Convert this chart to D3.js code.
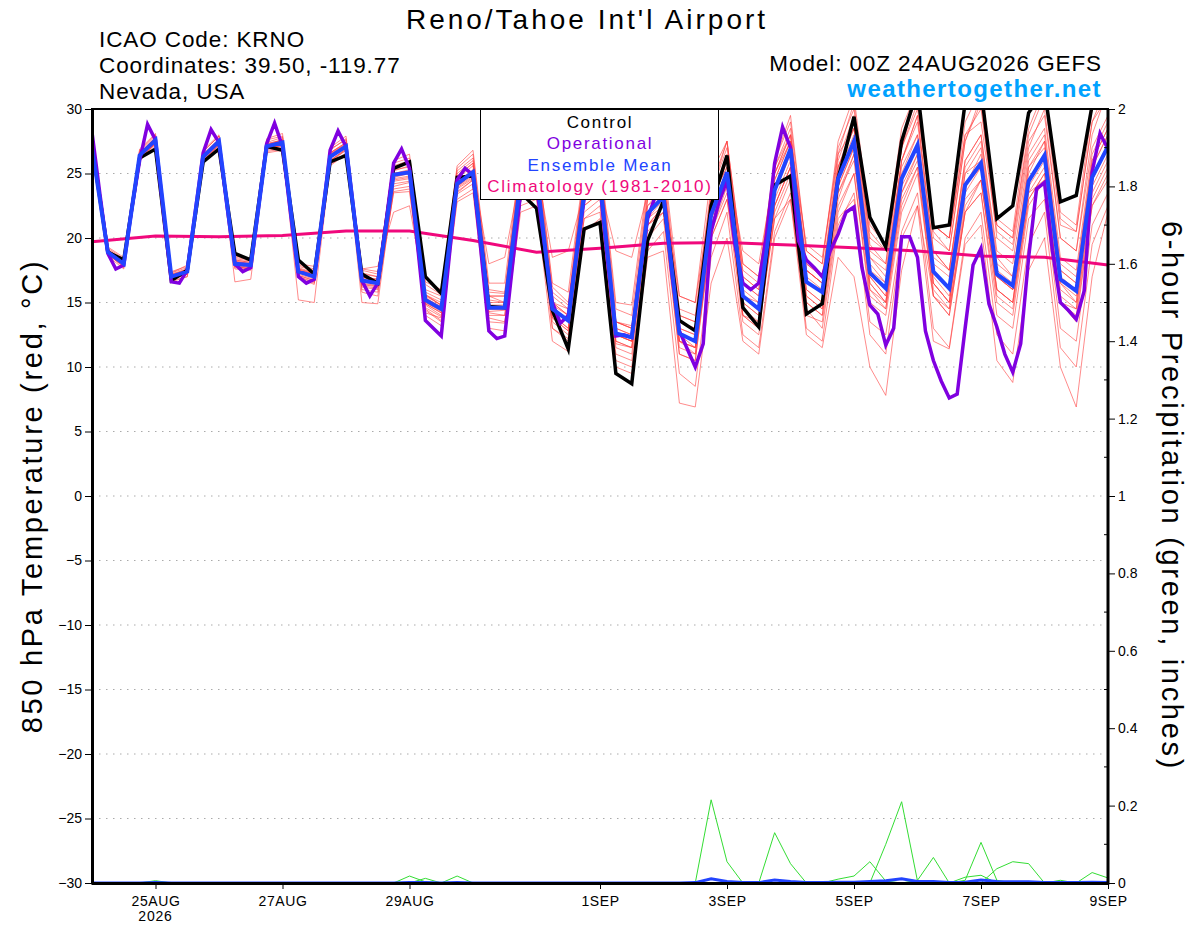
<!DOCTYPE html>
<html>
<head>
<meta charset="utf-8">
<script src="https://cdn.jsdelivr.net/npm/d3@7"></script>
<style>
  body { margin: 0; background: #fff; }
  svg { display: block; font-family: "Liberation Sans", Arial, Helvetica, sans-serif; }
</style>
</head>
<body>
<script>
// ---- data (6-hourly from 00Z 24AUG2026 unless noted) ----
const runStart = Date.UTC(2026, 7, 24, 0);
const runEnd = Date.UTC(2026, 8, 9, 0);

const tickDates = [
  Date.UTC(2026, 7, 25), Date.UTC(2026, 7, 27), Date.UTC(2026, 7, 29), Date.UTC(2026, 8, 1),
  Date.UTC(2026, 8, 3), Date.UTC(2026, 8, 5), Date.UTC(2026, 8, 7), Date.UTC(2026, 8, 9)
];
const tickLabels = ["25AUG", "27AUG", "29AUG", "1SEP", "3SEP", "5SEP", "7SEP", "9SEP"];
const tempTicks = [-30, -25, -20, -15, -10, -5, 0, 5, 10, 15, 20, 25, 30];
const precipTicks = [0, 0.2, 0.4, 0.6, 0.8, 1, 1.2, 1.4, 1.6, 1.8, 2];
const precipMinor = [0.1, 0.3, 0.5, 0.7, 0.9, 1.1, 1.3, 1.5, 1.7, 1.9];

const control = [
  27.2, 18.9, 18.3, 26.2, 26.9, 16.7, 17.5, 25.9,
  26.9, 18.8, 18.3, 27.1, 26.8, 18.3, 17.2, 25.9,
  26.4, 17.2, 16.5, 25.4, 25.9, 17.0, 15.7, 24.7,
  24.8, 14.7, 14.6, 23.5, 22.3, 14.4, 11.4, 20.7,
  21.2, 9.5, 8.7, 19.8, 22.9, 13.6, 12.8, 22.5,
  26.4, 14.6, 13.1, 24.1, 24.8, 14.1, 14.9, 24.6,
  29.4, 21.6, 19.3, 27.5, 31.5, 20.8, 21.0, 30.5,
  31.5, 21.5, 22.5, 29.7, 31.5, 22.8, 23.3, 30.3,
  33.0
];

const ensMean = [
  27.0, 18.9, 18.0, 26.4, 27.6, 17.0, 17.4, 26.3,
  27.5, 18.0, 17.9, 27.1, 27.4, 17.4, 17.0, 26.3,
  27.1, 16.7, 16.5, 24.9, 25.1, 15.2, 14.5, 24.2,
  25.1, 14.6, 14.6, 24.5, 25.0, 14.5, 13.6, 23.5,
  24.5, 12.6, 12.3, 21.9, 23.2, 12.6, 12.0, 21.8,
  25.1, 15.5, 14.5, 23.7, 26.9, 16.6, 15.8, 24.6,
  27.5, 17.3, 16.1, 24.6, 27.2, 17.4, 16.1, 24.1,
  25.8, 17.2, 16.3, 24.4, 26.4, 16.8, 15.9, 24.7,
  27.1
];

// operational run: 3-hourly
const operational = [
  28.2, 23.4, 18.8, 17.6, 17.9, 22.2, 26.0, 28.8,
  27.6, 22.0, 16.6, 16.5, 17.5, 22.0, 26.6, 28.4,
  27.4, 22.5, 18.0, 17.4, 17.7, 22.5, 27.3, 28.9,
  27.1, 22.0, 17.0, 16.5, 16.8, 21.5, 26.8, 28.3,
  27.1, 22.0, 16.7, 15.5, 16.5, 21.0, 25.8, 26.9,
  25.4, 19.5, 13.6, 13.0, 12.4, 18.5, 24.5, 25.4,
  24.9, 19.0, 12.8, 12.2, 12.4, 18.0, 23.5, 24.5,
  24.0, 19.5, 15.0, 13.4, 14.0, 18.5, 23.0, 24.0,
  24.0, 18.0, 12.4, 12.5, 12.3, 17.0, 21.5, 23.3,
  23.5, 17.5, 12.8, 11.4, 10.0, 11.8, 20.5, 22.8,
  24.5, 19.5, 16.5, 16.0, 16.5, 20.3, 25.8, 28.6,
  27.0, 19.8, 18.3, 17.7, 17.0, 19.0, 20.3, 22.0,
  22.4, 17.7, 14.8, 14.1, 11.7, 13.0, 20.1, 20.1,
  18.5, 12.8, 10.5, 8.9, 7.6, 7.9, 13.0, 17.9,
  19.2, 14.9, 13.1, 11.0, 9.6, 11.8, 18.5, 23.8,
  24.3, 19.0, 15.0, 14.4, 13.7, 15.9, 25.1, 28.1,
  26.9
];

// daily climatology (1981-2010), 00Z each day 24AUG..9SEP
const climatology = [19.7, 20.15, 20.1, 20.2, 20.55, 20.55, 19.8, 18.9,
  19.2, 19.6, 19.65, 19.45, 19.25, 19.0, 18.6, 18.5, 17.9];

const members = [
  [27.3,19.2,18.4,26.8,28.0,17.4,17.8,26.7, 27.9,18.5,18.3,27.6,27.9,17.9,17.6,26.9, 27.6,17.5,17.2,25.8,26.2,16.4,15.6,25.4, 26.5,16.0,15.8,26.0,26.8,16.2,15.0,25.0, 26.0,14.5,14.0,24.0,25.5,14.5,14.0,24.0, 27.5,18.0,17.0,26.0,29.0,19.0,18.0,27.0, 30.0,20.0,19.0,27.5,31.0,21.0,20.0,28.0, 30.0,21.0,20.0,28.0,31.0,21.0,20.5,29.0, 31.0],
  [26.7,18.6,17.6,26.0,27.2,16.6,17.0,25.9, 27.1,16.6,16.8,26.6,26.8,15.2,15.0,25.6, 26.5,15.8,15.5,23.6,23.8,14.0,13.2,22.8, 23.5,13.0,12.8,22.0,22.5,12.0,11.2,20.5, 21.5,10.5,10.0,19.0,20.5,9.5,8.5,18.5, 22.0,12.5,11.5,20.5,23.5,13.0,12.0,21.0, 23.5,13.5,12.5,20.5,23.5,13.0,11.5,20.0, 22.0,12.5,11.0,19.5,22.0,11.5,10.0,19.5, 22.5],
  [27.1,19.0,18.2,26.5,27.8,17.2,17.5,26.5, 27.7,18.2,18.0,27.3,27.6,17.6,17.3,26.5, 27.3,17.0,16.8,25.2,25.6,15.6,14.8,24.8, 25.8,15.2,15.0,25.2,25.5,13.8,12.8,24.0, 25.0,11.8,11.5,21.0,22.5,11.0,10.5,20.5, 24.0,14.5,13.0,22.5,25.5,15.0,14.0,23.0, 26.5,16.0,14.5,23.5,26.5,16.5,15.0,24.0, 26.5,17.0,16.0,25.0,27.5,18.0,17.0,26.0, 28.5],
  [26.9,18.8,17.9,26.3,27.4,16.9,17.3,26.2, 27.3,17.8,17.6,26.9,27.2,17.0,16.5,25.9, 26.8,15.0,14.9,24.0,24.3,14.5,13.6,23.4, 24.2,13.8,13.5,23.0,23.5,13.0,12.0,21.5, 22.0,10.0,9.5,18.5,19.0,7.2,6.9,16.5, 20.0,12.0,11.0,20.0,23.0,14.0,13.5,22.0, 25.0,15.0,14.0,22.0,25.0,15.5,14.5,22.5, 24.5,15.5,14.5,23.0,25.0,15.0,13.5,22.5, 25.0],
  [27.2,19.1,18.1,26.6,27.7,17.1,17.6,26.4, 27.6,18.3,18.1,27.2,27.5,17.5,17.2,26.6, 27.4,17.2,17.0,25.5,25.8,15.8,15.2,25.0, 26.0,15.5,15.5,25.8,26.5,15.8,14.8,25.0, 26.0,13.5,13.2,23.5,25.0,14.0,13.5,23.5, 27.0,17.0,16.0,25.5,28.5,18.0,17.0,26.5, 30.5,19.5,18.0,27.0,31.5,20.5,19.0,27.5, 30.5,20.0,19.0,27.0,30.0,20.0,19.0,28.0, 31.5],
  [26.8,18.7,17.8,26.2,27.3,16.8,17.2,26.0, 27.2,17.9,17.7,26.9,27.1,17.2,16.8,26.0, 26.9,16.4,16.2,24.4,24.6,14.8,14.0,23.8, 24.6,14.2,14.0,24.0,24.2,14.0,13.0,22.5, 23.5,12.0,11.5,21.0,22.0,12.0,11.5,20.5, 23.5,14.0,13.0,21.5,24.5,14.5,13.0,21.5, 23.0,12.5,11.0,20.0,22.5,12.0,11.4,19.5, 21.0,10.5,8.8,17.5,20.0,10.0,6.9,17.0, 22.0],
  [27.0,18.9,18.1,26.4,27.5,17.0,17.5,26.3, 27.4,18.1,18.0,27.0,27.3,17.3,17.0,26.3, 27.0,16.8,16.6,24.7,25.0,15.0,14.3,24.0, 24.8,14.3,14.4,24.2,24.5,14.0,13.0,23.0, 23.8,12.0,11.5,21.5,23.0,12.5,11.5,21.5, 24.5,14.0,13.5,21.5,23.0,12.5,11.5,18.5, 17.0,10.0,7.8,17.5,22.5,15.5,14.0,22.0, 24.5,16.0,15.0,23.5,25.5,16.0,15.0,24.0, 26.5],
  [27.4,19.3,18.5,26.9,28.1,17.3,17.9,26.8, 28.0,18.6,18.4,27.7,28.1,18.0,17.8,27.0, 27.9,17.6,17.4,26.0,26.5,16.6,16.0,25.6, 26.8,16.5,16.5,26.5,27.0,16.5,15.8,25.5, 26.5,15.0,14.8,24.5,26.0,15.5,15.0,25.0, 27.5,18.0,17.0,25.0,28.0,18.0,17.0,25.5, 28.5,18.5,17.5,26.0,29.0,18.5,17.5,26.0, 28.0,19.0,18.0,26.5,28.5,18.5,17.5,26.5, 29.0],
  [26.8,18.7,17.9,26.1,27.3,16.8,17.2,26.0, 27.2,17.7,17.6,26.8,27.0,17.0,16.6,25.8, 26.6,16.0,15.8,23.8,24.0,14.4,13.5,23.0, 23.8,13.5,13.4,22.5,23.0,13.0,12.2,21.5, 22.5,11.0,10.5,20.0,21.5,11.0,10.5,20.0, 23.0,13.5,12.5,22.5,25.5,15.5,14.5,23.5, 26.5,16.5,15.0,23.0,25.5,16.0,14.5,22.0, 23.5,15.0,14.0,22.5,24.5,15.5,14.5,23.0, 25.5],
  [27.1,19.0,18.0,26.5,27.6,17.1,17.4,26.4, 27.5,18.0,17.9,27.2,27.5,17.5,17.1,26.4, 27.2,16.6,16.4,25.0,25.3,15.4,14.6,24.4, 25.3,14.8,14.8,25.0,25.8,15.0,14.0,24.5, 25.5,13.0,12.5,22.5,24.0,13.0,12.5,22.5, 26.0,16.0,15.0,24.5,27.5,17.0,16.0,25.0, 28.0,17.0,15.5,25.0,28.0,17.5,16.0,25.0, 27.0,17.5,16.5,25.5,27.5,17.0,16.0,25.5, 28.0],
  [27.0,18.8,17.7,26.2,27.4,16.7,17.0,26.1, 27.3,17.6,17.5,26.7,26.9,16.9,16.4,25.7, 26.5,16.2,16.0,23.5,23.6,14.2,13.8,23.5, 24.5,14.8,14.5,23.5,23.8,13.5,12.5,22.0, 23.0,12.5,12.0,21.0,22.0,12.0,11.0,20.0, 23.0,15.5,15.0,24.0,27.0,17.5,16.5,25.0, 27.0,17.5,16.5,25.5,28.0,18.0,17.0,25.0, 26.0,17.0,16.0,23.5,24.5,15.0,14.0,22.5, 24.5],
  [27.3,19.1,18.3,26.7,27.9,17.3,17.7,26.7, 27.9,18.4,18.2,27.4,27.8,17.8,17.5,26.8, 27.7,17.3,17.0,25.6,26.0,16.0,15.5,25.2, 26.2,15.8,15.7,25.5,26.0,15.5,14.5,24.5, 25.5,13.5,13.0,23.0,24.5,14.0,13.5,23.5, 27.5,17.0,16.0,25.5,28.0,17.5,16.5,26.0, 29.5,19.0,18.0,27.0,30.5,20.0,19.0,27.5, 31.0,21.0,20.0,28.5,31.5,21.5,20.5,29.0, 32.0],
  [26.9,18.9,17.9,26.3,27.5,16.9,17.3,26.2, 27.4,17.9,17.8,27.0,27.3,17.3,16.9,26.2, 27.0,16.5,16.3,24.6,24.8,14.9,14.2,24.0, 25.0,14.5,14.5,24.5,25.0,14.5,13.5,23.5, 24.5,12.5,12.0,21.5,22.5,12.0,11.5,21.0, 24.5,15.0,14.0,23.0,26.0,16.0,15.0,24.0, 27.0,17.0,15.5,24.0,26.5,17.0,15.5,23.5, 25.5,17.0,16.0,24.0,26.0,16.5,15.5,24.5, 27.0],
  [27.1,19.0,18.2,26.6,27.8,17.2,17.6,26.5, 27.6,18.3,18.1,27.3,27.6,17.7,17.3,26.6, 27.3,17.6,17.8,22.0,22.5,15.6,14.8,24.0, 25.0,15.5,15.5,25.0,25.5,15.0,14.0,24.0, 25.0,13.5,13.0,22.5,23.5,13.5,13.0,23.0, 25.5,16.5,15.5,24.5,27.5,17.5,16.5,25.5, 28.5,18.0,16.5,26.0,29.5,19.0,17.5,26.0, 28.0,18.5,17.0,25.5,27.0,17.5,16.5,25.5, 28.0],
  [27.2,19.0,18.1,26.5,27.6,17.0,17.4,26.4, 27.5,18.1,18.0,27.2,27.5,17.5,17.1,26.4, 27.2,17.0,16.8,25.0,25.2,15.5,14.8,24.3, 25.2,18.0,18.5,25.0,25.5,18.5,19.0,23.5, 24.0,19.0,18.5,23.5,24.0,15.5,15.0,23.0, 25.5,19.0,18.0,25.0,27.5,19.5,18.5,26.5, 28.5,20.5,19.0,27.0,30.0,21.0,20.0,28.0, 29.0,20.5,19.5,27.5,29.5,20.0,19.0,27.0, 29.5],
  [26.9,18.8,17.9,26.3,27.4,16.9,17.3,26.1, 27.4,17.8,17.7,26.9,27.2,17.1,16.7,26.0, 26.8,16.3,16.1,24.2,24.4,14.6,13.9,23.6, 24.5,14.0,14.0,23.5,24.0,13.8,12.8,22.5, 23.5,11.5,11.0,20.5,22.0,11.5,11.0,21.0, 24.5,14.5,13.5,22.5,25.5,15.5,14.5,23.5, 26.0,16.0,15.0,23.5,26.0,16.5,15.0,23.0, 24.5,16.0,15.0,23.0,25.0,15.0,14.5,23.5, 26.0],
  [27.0,18.9,18.0,26.4,27.6,17.0,17.4,26.3, 27.5,18.0,17.9,27.1,27.4,17.4,17.0,26.3, 27.1,16.9,16.7,25.0,25.2,15.3,14.7,24.6, 25.6,15.0,15.0,25.0,25.5,14.8,14.0,24.0, 25.0,13.0,12.5,22.0,23.0,12.5,12.0,22.0, 25.0,15.0,14.0,23.5,26.5,16.0,15.0,24.0, 27.0,16.5,15.0,24.5,27.0,16.5,15.0,24.0, 25.5,16.0,15.0,24.5,26.5,16.5,15.0,24.5, 27.0],
  [27.2,19.1,18.2,26.6,27.7,17.1,17.5,26.4, 27.6,18.2,18.0,27.2,27.6,17.6,17.2,26.6, 27.4,17.0,16.7,25.3,25.5,15.6,15.0,24.8, 25.8,15.5,15.0,25.5,26.0,15.0,14.5,25.0, 26.0,13.5,13.0,23.0,24.5,13.5,13.0,23.0, 26.5,17.5,16.5,26.0,29.5,19.0,18.0,27.5, 31.0,21.0,19.5,28.5,31.5,21.0,20.0,29.0, 31.5,21.5,20.5,29.5,32.0,22.0,21.0,30.0, 32.5],
  [26.9,18.7,17.8,26.2,27.3,16.8,17.2,26.1, 27.3,17.8,17.6,26.9,27.2,17.1,16.7,26.0, 26.9,16.4,16.3,24.5,24.7,14.9,14.2,23.9, 24.7,14.5,14.5,24.0,24.5,14.5,13.5,23.0, 24.0,12.5,12.0,21.0,22.5,12.0,11.5,21.5, 24.0,14.0,13.0,22.0,25.0,15.0,14.0,22.5, 25.0,15.5,14.5,22.5,25.5,15.5,14.0,22.0, 23.5,14.0,13.0,21.5,23.0,13.0,12.0,21.0, 23.5],
  [27.1,18.9,18.1,26.5,27.6,17.1,17.5,26.4, 27.6,18.1,18.0,27.2,27.5,17.5,17.2,26.5, 27.2,16.8,16.6,24.8,25.0,15.0,14.4,24.2, 25.0,14.5,14.5,24.5,25.0,14.5,13.5,23.8, 24.5,12.5,12.0,22.0,23.5,13.0,12.5,22.5, 26.0,16.5,15.5,25.0,28.0,17.5,16.5,25.5, 29.0,18.5,17.0,26.0,29.5,19.0,17.5,25.5, 27.5,18.0,17.0,26.0,28.0,17.5,16.5,26.0, 28.5]
];

// 6-hour precipitation (inches)
const precipMean = [
  0,0,0,0,0.001,0,0,0, 0,0,0,0,0,0,0,0, 0,0,0,0,0.001,0.001,0,0.001, 0,0,0,0,0,0,0,0,
  0,0,0,0,0,0,0.001,0.011, 0.004,0.001,0.001,0.008,0.004,0.001,0.001,0.002,
  0.002,0.004,0.006,0.011,0.004,0.004,0.001,0.002, 0.008,0.004,0.003,0.003,0.001,0.001,0.001,0.002, 0.001
];
const precipMembers = [
  [0,0,0,0,0,0,0,0, 0,0,0,0,0,0,0,0, 0,0,0,0,0,0,0,0, 0,0,0,0,0,0,0,0, 0,0,0,0,0,0,0,0.215, 0.055,0,0,0,0,0,0,0, 0,0,0,0,0,0,0,0, 0,0,0,0,0,0,0,0, 0],
  [0,0,0,0,0,0,0,0, 0,0,0,0,0,0,0,0, 0,0,0,0,0,0,0,0, 0,0,0,0,0,0,0,0, 0,0,0,0,0,0,0,0, 0,0,0,0.13,0.05,0,0,0, 0,0,0,0,0,0,0,0, 0,0,0,0,0,0,0,0, 0],
  [0,0,0,0,0,0,0,0, 0,0,0,0,0,0,0,0, 0,0,0,0,0,0,0,0, 0,0,0,0,0,0,0,0, 0,0,0,0,0,0,0,0, 0,0,0,0,0,0,0,0, 0,0,0.1,0.21,0.005,0,0,0, 0,0,0,0,0,0,0,0, 0],
  [0,0,0,0,0,0,0,0, 0,0,0,0,0,0,0,0, 0,0,0,0,0,0,0,0, 0,0,0,0,0,0,0,0, 0,0,0,0,0,0,0,0, 0,0,0,0,0,0,0,0.01, 0.018,0.055,0.005,0,0,0,0,0, 0,0,0,0,0,0,0,0, 0],
  [0,0,0,0,0,0,0,0, 0,0,0,0,0,0,0,0, 0,0,0,0,0,0,0,0, 0,0,0,0,0,0,0,0, 0,0,0,0,0,0,0,0, 0,0,0,0,0,0,0,0, 0,0,0,0,0.007,0.066,0,0, 0,0,0,0,0,0,0,0, 0],
  [0,0,0,0,0,0,0,0, 0,0,0,0,0,0,0,0, 0,0,0,0,0,0,0,0, 0,0,0,0,0,0,0,0, 0,0,0,0,0,0,0,0, 0,0,0,0,0,0,0,0, 0,0,0,0,0,0,0,0.007, 0.105,0.007,0,0,0,0,0,0, 0],
  [0,0,0,0,0,0,0,0, 0,0,0,0,0,0,0,0, 0,0,0,0,0,0,0,0, 0,0,0,0,0,0,0,0, 0,0,0,0,0,0,0,0, 0,0,0,0,0,0,0,0, 0,0,0,0,0,0,0,0, 0,0.037,0.055,0.05,0,0,0,0, 0],
  [0,0,0,0,0.006,0,0,0, 0,0,0,0,0,0,0,0, 0,0,0,0,0.018,0.003,0,0, 0,0,0,0,0,0,0,0, 0,0,0,0,0,0,0,0, 0,0,0,0,0,0,0,0, 0,0,0,0,0,0,0,0, 0,0,0,0,0,0,0,0.027, 0.013],
  [0,0,0,0,0,0,0,0, 0,0,0,0,0,0,0,0, 0,0,0,0,0,0.012,0,0.018, 0,0,0,0,0,0,0,0, 0,0,0,0,0,0,0,0, 0,0,0,0,0,0,0,0, 0,0,0,0,0,0,0,0.015, 0.02,0,0,0,0,0.007,0,0, 0]
];

// ---- layout ----
const W = 1200, H = 927;
const plotL = 92, plotR = 1108, plotT = 109, plotB = 883;
const HOUR = 3600 * 1000;

const x = d3.scaleUtc().domain([runStart, runEnd]).range([plotL, plotR]);
const y = d3.scaleLinear().domain([-30, 30]).range([plotB, plotT]);
const yP = d3.scaleLinear().domain([0, 2]).range([plotB, plotT]);

const t6 = i => runStart + i * 6 * HOUR;
const t3 = i => runStart + i * 3 * HOUR;

const svg = d3.select("body").append("svg")
  .attr("width", W).attr("height", H);

svg.append("defs").append("clipPath").attr("id", "plot")
  .append("rect").attr("x", plotL).attr("y", plotT)
  .attr("width", plotR - plotL).attr("height", plotB - plotT);

// grid
svg.append("g").selectAll("line")
  .data(tempTicks.filter(d => d > -30 && d < 30))
  .join("line")
  .attr("x1", plotL).attr("x2", plotR)
  .attr("y1", d => y(d)).attr("y2", d => y(d))
  .attr("stroke", "#aaa").attr("stroke-width", 1)
  .attr("stroke-dasharray", "1.5,5.5");

const plot = svg.append("g").attr("clip-path", "url(#plot)");

const line6 = scale => d3.line().x((d, i) => x(t6(i))).y(d => scale(d));
const line3 = d3.line().x((d, i) => x(t3(i))).y(d => y(d));
const lineDay = d3.line().x((d, i) => x(runStart + i * 24 * HOUR)).y(d => y(d));

// ensemble members
plot.append("g").selectAll("path")
  .data(members)
  .join("path")
  .attr("d", line6(y))
  .attr("fill", "none")
  .attr("stroke", "#ff3b3b")
  .attr("stroke-width", 0.7)
  .attr("stroke-opacity", 0.85);

// precipitation members
plot.append("g").selectAll("path")
  .data(precipMembers)
  .join("path")
  .attr("d", line6(yP))
  .attr("fill", "none")
  .attr("stroke", "#33dd33")
  .attr("stroke-width", 1);

plot.append("path")
  .attr("d", line6(yP)(precipMean))
  .attr("fill", "none")
  .attr("stroke", "#2244ff")
  .attr("stroke-width", 3);

// climatology
plot.append("path")
  .attr("d", lineDay(climatology))
  .attr("fill", "none")
  .attr("stroke", "#f0087c")
  .attr("stroke-width", 3);

// control
plot.append("path")
  .attr("d", line6(y)(control))
  .attr("fill", "none")
  .attr("stroke", "#000")
  .attr("stroke-width", 3.5);

// operational
plot.append("path")
  .attr("d", line3(operational))
  .attr("fill", "none")
  .attr("stroke", "#8000e0")
  .attr("stroke-width", 3.5);

// ensemble mean
plot.append("path")
  .attr("d", line6(y)(ensMean))
  .attr("fill", "none")
  .attr("stroke", "#2244ff")
  .attr("stroke-width", 4);

// legend
const legend = svg.append("g");
legend.append("rect")
  .attr("x", 480.5).attr("y", 108.5).attr("width", 238).attr("height", 91)
  .attr("fill", "#fff").attr("stroke", "#000").attr("stroke-width", 1);
const legendItems = [
  ["Control", "#000"], ["Operational", "#8000e0"],
  ["Ensemble Mean", "#2244ff"], ["Climatology (1981-2010)", "#f0087c"]
];
legend.selectAll("text")
  .data(legendItems)
  .join("text")
  .attr("x", 600).attr("y", (d, i) => 128 + i * 21.3)
  .attr("text-anchor", "middle")
  .attr("font-size", 17)
  .attr("letter-spacing", 1.7)
  .attr("fill", d => d[1])
  .text(d => d[0]);

// frame
svg.append("rect")
  .attr("x", plotL).attr("y", plotT).attr("width", plotR - plotL).attr("height", plotB - plotT)
  .attr("fill", "none").attr("stroke", "#000").attr("stroke-width", 2);
svg.append("line").attr("x1", plotL + 0.5).attr("x2", plotL + 0.5).attr("y1", plotT).attr("y2", plotB + 1.5)
  .attr("stroke", "#000").attr("stroke-width", 3);
svg.append("line").attr("x1", plotL).attr("x2", plotR).attr("y1", plotB + 0.5).attr("y2", plotB + 0.5)
  .attr("stroke", "#000").attr("stroke-width", 3);
svg.append("line").attr("x1", plotR).attr("x2", plotR).attr("y1", plotT).attr("y2", plotB + 1.5)
  .attr("stroke", "#000").attr("stroke-width", 3);

// axes
const axisL = svg.append("g").attr("transform", `translate(${plotL - 1},0)`)
  .call(d3.axisLeft(y).tickValues(tempTicks).tickSize(6).tickPadding(3).tickFormat(d3.format("d")));
const axisR = svg.append("g").attr("transform", `translate(${plotR + 1},0)`)
  .call(d3.axisRight(yP).tickValues(precipTicks).tickSize(6).tickPadding(3).tickFormat(d3.format("~g")));
svg.append("g").selectAll("line")
  .data(precipMinor)
  .join("line")
  .attr("x1", plotR - 4).attr("x2", plotR)
  .attr("y1", d => yP(d)).attr("y2", d => yP(d))
  .attr("stroke", "#000").attr("stroke-width", 1);
const axisB = svg.append("g").attr("transform", `translate(0,${plotB + 1})`)
  .call(d3.axisBottom(x).tickValues(tickDates).tickSize(5).tickPadding(4)
    .tickFormat((d, i) => tickLabels[i]));

[axisL, axisR, axisB].forEach(g => {
  g.select(".domain").remove();
  g.selectAll("text").attr("font-size", 14).attr("fill", "#000")
    .attr("font-family", "\"Liberation Sans\", Arial, sans-serif");
  g.selectAll(".tick line").attr("stroke", "#000");
});
axisB.selectAll("text").attr("dy", "0.95em").attr("letter-spacing", 0.6);

svg.append("text")
  .attr("x", x(tickDates[0])).attr("y", 921)
  .attr("text-anchor", "middle").attr("font-size", 14).attr("letter-spacing", 0.8)
  .text("2026");

// titles
svg.append("text").attr("x", 587).attr("y", 29)
  .attr("text-anchor", "middle").attr("font-size", 28).attr("letter-spacing", 3)
  .text("Reno/Tahoe Int'l Airport");

const info = ["ICAO Code: KRNO", "Coordinates: 39.50, -119.77", "Nevada, USA"];
svg.append("g").selectAll("text")
  .data(info)
  .join("text")
  .attr("x", 99).attr("y", (d, i) => 47 + i * 26)
  .attr("font-size", 22.5).attr("letter-spacing", 0.9)
  .text(d => d);

svg.append("text").attr("x", 1102).attr("y", 71)
  .attr("text-anchor", "end").attr("font-size", 22.5).attr("letter-spacing", 0.9)
  .text("Model: 00Z 24AUG2026 GEFS");
svg.append("text").attr("x", 1102).attr("y", 97)
  .attr("text-anchor", "end").attr("font-size", 24).attr("font-weight", "bold")
  .attr("letter-spacing", 1.4)
  .attr("fill", "#00a2ff")
  .text("weathertogether.net");

svg.append("text")
  .attr("transform", `translate(42,${(plotT + plotB) / 2}) rotate(-90)`)
  .attr("text-anchor", "middle").attr("font-size", 29).attr("letter-spacing", 2.7)
  .text("850 hPa Temperature (red, °C)");
svg.append("text")
  .attr("transform", `translate(1162,${(plotT + plotB) / 2}) rotate(90)`)
  .attr("text-anchor", "middle").attr("font-size", 29).attr("letter-spacing", 2.7)
  .text("6-hour Precipitation (green, inches)");
</script>
</body>
</html>
